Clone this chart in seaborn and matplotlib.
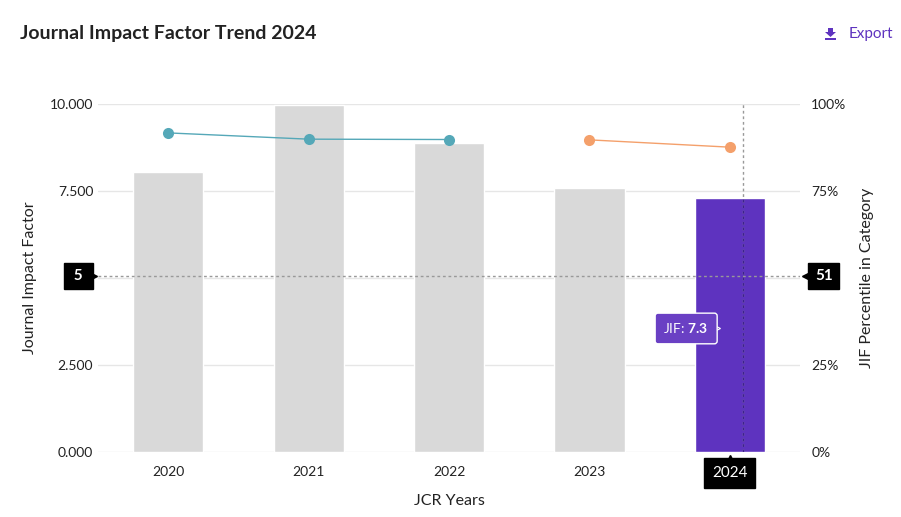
# Journal Impact Factor trend chart: JIF bars with percentile line on a twin axis

import pandas as pd
import seaborn as sns
import matplotlib.pyplot as plt
import matplotlib.transforms as mtransforms
from matplotlib.patches import Polygon, Rectangle

years = ['2020', '2021', '2022', '2023', '2024']
jif = [8.05, 9.97, 8.88, 7.59, 7.3]
percentile = [91.7, 89.9, 89.8, 89.7, 87.6]
# first three points are one series (teal), last two another (orange)
series = ['a', 'a', 'a', 'b', 'b']

hover_jif = 5.06
hover_pct = '51'

GRAY = '#d9d9d9'
PURPLE = '#5e33bf'
TEAL = '#55a8b8'
ORANGE = '#f4a06b'

sns.set_theme(style='white')
plt.rcParams['font.family'] = ['Lato', 'DejaVu Sans']
plt.rcParams['mathtext.fontset'] = 'custom'
plt.rcParams['mathtext.bf'] = 'Lato:bold'
plt.rcParams['mathtext.rm'] = 'Lato'

df = pd.DataFrame({'year': years, 'jif': jif, 'pct': percentile,
                   'series': series, 'pos': range(len(years))})

fig = plt.figure(figsize=(9.01, 5.17), dpi=100)
ax = fig.add_axes([0.1088, 0.1257, 0.7792, 0.6731])

bar_colors = [GRAY] * (len(years) - 1) + [PURPLE]
sns.barplot(data=df, x='year', y='jif', hue='year', palette=bar_colors,
            width=0.5, legend=False, ax=ax, saturation=1, zorder=2)

ax.set_ylim(0, 10)
ax.set_xlim(-0.5, 4.5)
ax.set_yticks([0, 2.5, 5, 7.5, 10])
ax.set_yticklabels(['0.000', '2.500', '', '7.500', '10.000'])
ax.grid(axis='y', color='#e6e6e6', linewidth=1, zorder=0)
ax.set_axisbelow(True)
for s in ax.spines.values():
    s.set_visible(False)
ax.tick_params(axis='both', length=0, labelsize=10, colors='#222222')
ax.tick_params(axis='x', pad=10)
ax.set_xlabel('JCR Years', fontsize=11.5, color='#222222', labelpad=10)
ax.set_ylabel('Journal Impact Factor', fontsize=11.5, color='#222222', labelpad=9)

ax2 = ax.twinx()
palette = {'a': TEAL, 'b': ORANGE}
sns.lineplot(data=df, x='pos', y='pct', hue='series', palette=palette,
             marker='o', markersize=8, markeredgewidth=0, linewidth=1,
             legend=False, ax=ax2, zorder=3)
ax2.set_ylim(0, 100)
ax2.set_xlim(-0.5, 4.5)
ax2.set_yticks([0, 25, 50, 75, 100])
ax2.set_yticklabels(['0%', '25%', '', '75%', '100%'])
for s in ax2.spines.values():
    s.set_visible(False)
ax2.tick_params(axis='y', length=0, labelsize=10, colors='#222222', pad=8)
ax2.set_ylabel('JIF Percentile in Category', fontsize=11.5, color='#222222',
               labelpad=10)

# hover crosshair
hx = 4.09
ax.axhline(hover_jif, color='#999999', linestyle=(0, (2, 2)), linewidth=1, zorder=4)
ax.axvline(hx, color='#999999', linestyle=(0, (2, 2)), linewidth=1, zorder=4)
ax.plot([hx, hx], [0, jif[-1]], color='#3d1f8f', linestyle=(0, (2, 2)),
        linewidth=1, zorder=5)

box = dict(boxstyle='square,pad=0.42', fc='black', ec='black')
ax.annotate(' 5 ', xy=(0, hover_jif), xycoords=('axes fraction', 'data'),
            xytext=(-14, 0), textcoords='offset points', ha='center', va='center',
            color='white', fontsize=11, fontweight='bold', bbox=box, zorder=6,
            annotation_clip=False)
ax.annotate(hover_pct, xy=(1, hover_jif), xycoords=('axes fraction', 'data'),
            xytext=(17, 0), textcoords='offset points', ha='center', va='center',
            color='white', fontsize=11, fontweight='bold', bbox=box, zorder=6,
            annotation_clip=False)
# little pointers on the crosshair labels
blend = mtransforms.blended_transform_factory(ax.transAxes, ax.transData)
ax.plot([0], [hover_jif], marker='>', color='black', markersize=6, clip_on=False,
        transform=mtransforms.offset_copy(blend, fig=fig, x=-5, y=0, units='dots'),
        zorder=6)
ax.plot([1], [hover_jif], marker='<', color='black', markersize=6, clip_on=False,
        transform=mtransforms.offset_copy(blend, fig=fig, x=6, y=0, units='dots'),
        zorder=6)

# highlighted x tick label
lbl = ax.get_xticklabels()[-1]
lbl.set_color('white')
lbl.set_fontsize(11)
lbl.set_bbox(dict(boxstyle='square,pad=0.5', fc='black', ec='black'))
ax.plot([4], [0], marker='^', color='black', markersize=6, clip_on=False,
        transform=mtransforms.offset_copy(ax.transData, fig=fig, x=0, y=-7,
                                          units='dots'), zorder=6)

# tooltip
ax.annotate('JIF: $\\mathbf{7.3}$', xy=(3.85, 3.55), ha='right', va='center',
            color='white', fontsize=10,
            bbox=dict(boxstyle='round,pad=0.6,rounding_size=0.2',
                      fc='#6a40c4', ec='white', lw=1), zorder=7)
ax.plot([3.85], [3.55], marker='>', color='#6a40c4', markersize=7,
        markeredgecolor='white', markeredgewidth=0.8, clip_on=False,
        transform=mtransforms.offset_copy(ax.transData, fig=fig, x=6, y=0,
                                          units='dots'), zorder=6)

fig.text(20 / 901, 1 - 33 / 517, 'Journal Impact Factor Trend 2024',
         fontsize=14, fontweight='bold', color='#222222', va='center')
fig.text(893 / 901, 1 - 34 / 517, 'Export', fontsize=11, color=PURPLE,
         ha='right', va='center')

# download icon next to Export
W, H = 901, 517
arrow = [(828, 28), (833, 28), (833, 32), (836, 32), (830.5, 37), (825, 32), (828, 32)]
fig.patches.append(Polygon([(x / W, 1 - y / H) for x, y in arrow], closed=True,
                           fc=PURPLE, ec='none', transform=fig.transFigure))
fig.patches.append(Rectangle((825 / W, 1 - 40 / H), 11 / W, 1.6 / H,
                             fc=PURPLE, ec='none', transform=fig.transFigure))

fig.savefig('out.png', dpi=100)
